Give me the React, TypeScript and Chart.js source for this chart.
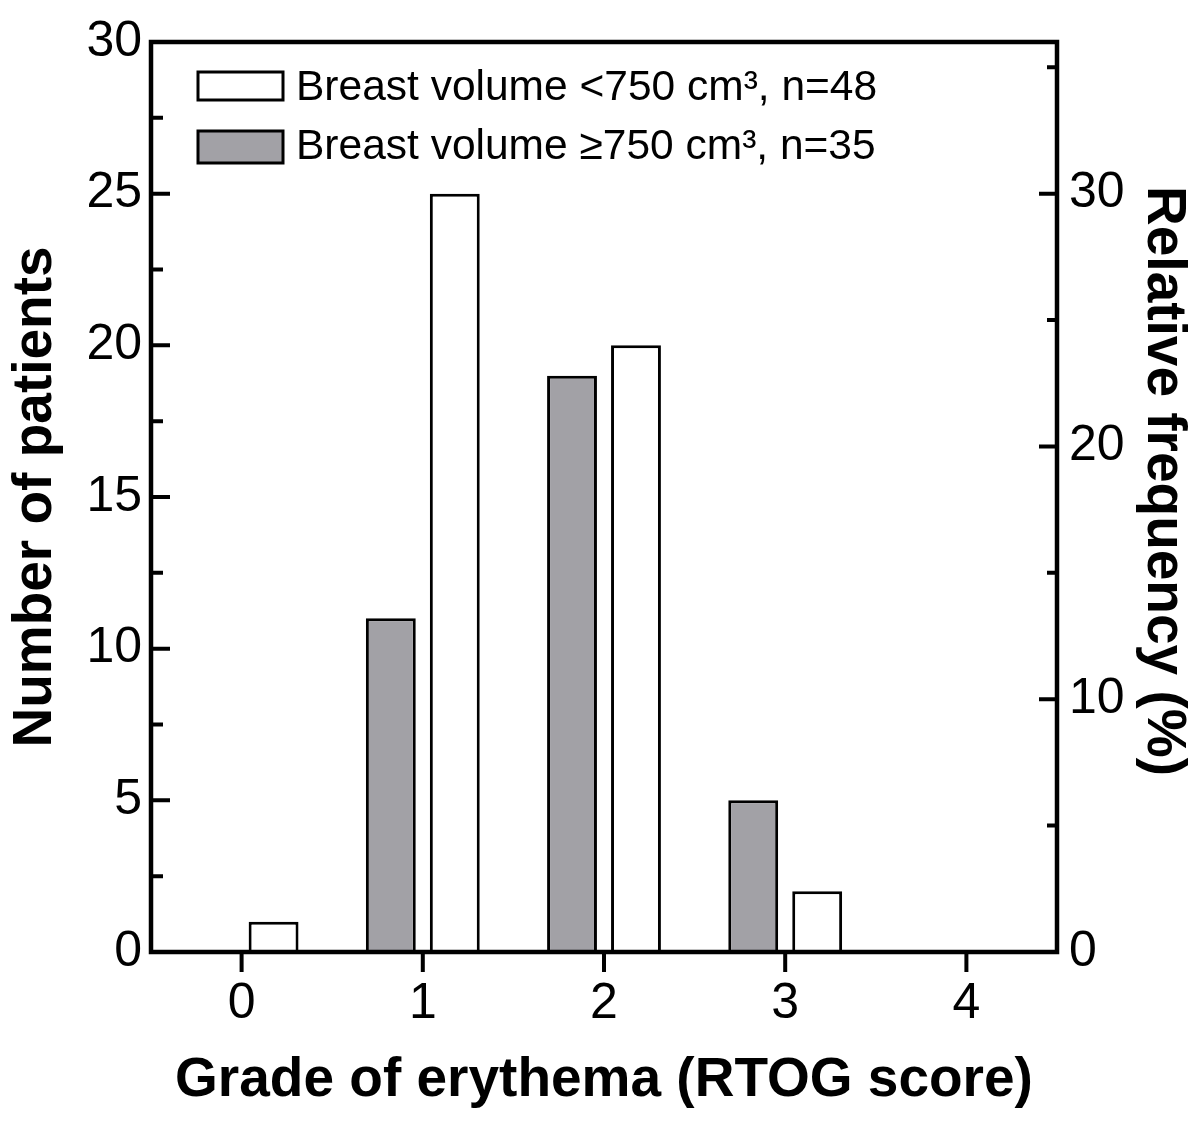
import React, { useEffect, useRef } from 'react';
import { Chart, registerables } from 'chart.js';

Chart.register(...registerables);

const grades = ['0', '1', '2', '3', '4'];
const smallVolume = [1, 25, 20, 2, 0];
const largeVolume = [0, 11, 19, 5, 0];
const leftTicks = [0, 5, 10, 15, 20, 25, 30];
const leftMinorTicks = [2.5, 7.5, 12.5, 17.5, 22.5, 27.5];
const rightTicks = [0, 10, 20, 30];
const rightMinorTicks = [5, 15, 25, 35];
const labelSmall = 'Breast volume <750 cm³, n=48';
const labelLarge = 'Breast volume ≥750 cm³, n=35';
const xTitle = 'Grade of erythema (RTOG score)';
const yTitle = 'Number of patients';
const y2Title = 'Relative frequency (%)';

const FAMILY = "'Liberation Sans', Arial, Helvetica, sans-serif";
const GRAY = '#a2a1a6';

const decorPlugin = {
  id: 'decor',
  afterDraw(chart: any) {
    const { ctx, chartArea } = chart;
    const { left, right, top, bottom } = chartArea;
    const y = chart.scales.y;
    const y2 = chart.scales.y2;
    const x = chart.scales.x;
    ctx.save();
    ctx.strokeStyle = '#000';
    ctx.lineCap = 'butt';
    ctx.lineWidth = 4.5;
    ctx.strokeRect(left, top, right - left, bottom - top);
    ctx.lineWidth = 4;
    ctx.beginPath();
    leftTicks.forEach((v) => {
      const p = y.getPixelForValue(v);
      ctx.moveTo(left, p);
      ctx.lineTo(left + 19, p);
    });
    leftMinorTicks.forEach((v) => {
      const p = y.getPixelForValue(v);
      ctx.moveTo(left, p);
      ctx.lineTo(left + 12, p);
    });
    rightTicks.forEach((v) => {
      const p = y2.getPixelForValue(v);
      ctx.moveTo(right, p);
      ctx.lineTo(right - 18, p);
    });
    rightMinorTicks.forEach((v) => {
      const p = y2.getPixelForValue(v);
      ctx.moveTo(right, p);
      ctx.lineTo(right - 10, p);
    });
    grades.forEach((_, i) => {
      const p = x.getPixelForValue(i);
      ctx.moveTo(p, bottom);
      ctx.lineTo(p, bottom + 20);
    });
    ctx.stroke();

    // legend
    const items = [
      { label: labelSmall, fill: '#ffffff', box: [198, 72, 85, 28], ty: 88 },
      { label: labelLarge, fill: GRAY, box: [198, 131, 85, 32], ty: 147 },
    ];
    ctx.lineWidth = 3;
    items.forEach((it) => {
      const [bx, by, bw, bh] = it.box;
      ctx.fillStyle = it.fill;
      ctx.fillRect(bx, by, bw, bh);
      ctx.strokeRect(bx, by, bw, bh);
      ctx.fillStyle = '#000';
      ctx.font = `42.5px ${FAMILY}`;
      ctx.textAlign = 'left';
      ctx.textBaseline = 'middle';
      ctx.fillText(it.label, 296, it.ty);
    });

    // right axis title
    ctx.save();
    ctx.translate(1163, 481);
    ctx.rotate(Math.PI / 2);
    ctx.font = `bold 55px ${FAMILY}`;
    ctx.textAlign = 'center';
    ctx.textBaseline = 'middle';
    ctx.fillStyle = '#000';
    ctx.fillText(y2Title, 0, 0);
    ctx.restore();
    ctx.restore();
  },
};

export default function App() {
  const ref = useRef<HTMLCanvasElement | null>(null);
  useEffect(() => {
    document.body.style.margin = '0';
    const canvas = ref.current!;
    const tickFont = { size: 50, family: FAMILY };
    const titleFont = { size: 55, weight: 'bold' as const, family: FAMILY };
    const chart = new Chart(canvas, {
      type: 'bar',
      data: {
        labels: grades,
        datasets: [
          {
            label: labelLarge,
            data: largeVolume,
            backgroundColor: GRAY,
            borderColor: '#000',
            borderWidth: 3,
            categoryPercentage: 0.706,
            barPercentage: 0.78,
            yAxisID: 'y',
          },
          {
            label: labelSmall,
            data: smallVolume,
            backgroundColor: '#ffffff',
            borderColor: '#000',
            borderWidth: 3,
            categoryPercentage: 0.706,
            barPercentage: 0.78,
            yAxisID: 'y',
          },
        ],
      },
      options: {
        responsive: false,
        animation: false,
        devicePixelRatio: 1,
        layout: { padding: { top: 41, left: 0, right: 0, bottom: 0 } },
        plugins: { legend: { display: false }, tooltip: { enabled: false } },
        scales: {
          x: {
            type: 'category',
            offset: true,
            grid: { display: false, drawTicks: false },
            border: { display: false },
            ticks: { font: tickFont, color: '#000', padding: 22, maxRotation: 0 },
            title: {
              display: true,
              text: xTitle,
              font: titleFont,
              color: '#000',
              padding: { top: 0, bottom: 14 },
            },
            afterFit: (s: any) => {
              s.height = 176;
            },
          },
          y: {
            type: 'linear',
            position: 'left',
            min: 0,
            max: 30,
            grid: { display: false, drawTicks: false },
            border: { display: false },
            afterBuildTicks: (s: any) => {
              s.ticks = leftTicks.map((v) => ({ value: v }));
            },
            ticks: { font: tickFont, color: '#000', padding: 9 },
            title: {
              display: true,
              text: yTitle,
              font: titleFont,
              color: '#000',
              padding: { top: 3, bottom: 0 },
            },
            afterFit: (s: any) => {
              s.width = 151;
            },
          },
          y2: {
            type: 'linear',
            position: 'right',
            min: 0,
            max: 36,
            grid: { display: false, drawTicks: false },
            border: { display: false },
            afterBuildTicks: (s: any) => {
              s.ticks = rightTicks.map((v) => ({ value: v }));
            },
            ticks: { font: tickFont, color: '#000', padding: 12 },
            afterFit: (s: any) => {
              s.width = 143;
            },
          },
        },
      },
      plugins: [decorPlugin],
    });
    return () => chart.destroy();
  }, []);
  return (
    <div style={{ width: 1200, height: 1128, background: '#fff' }}>
      <canvas ref={ref} width={1200} height={1128} style={{ display: 'block' }} />
    </div>
  );
}
